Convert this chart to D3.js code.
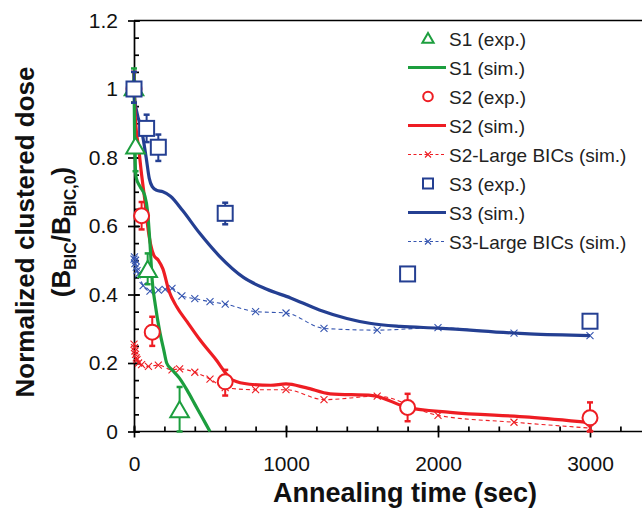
<!DOCTYPE html>
<html>
<head>
<meta charset="utf-8">
<script src="https://cdn.jsdelivr.net/npm/d3@7"></script>
<style>
  body { margin: 0; background: #fff; }
  svg { font-family: Arial, "Liberation Sans", sans-serif; }
  .axis path, .axis line { stroke: #000; stroke-width: 1.7; }
  .axis text { font-size: 21px; fill: #111; }
</style>
</head>
<body>
<svg width="642" height="511"></svg>
<script>
// experimental points [t, value, errLow, errHigh]
var s1Exp = [[0, 1.0, 0.96, 1.06], [10, 0.83, 0.76, 0.83], [90, 0.47, 0.43, 0.52], [300, 0.06, 0.0, 0.13]];
var s2Exp = [[0, 1.0, 0.96, 1.05], [50, 0.63, 0.59, 0.67], [120, 0.29, 0.25, 0.335], [600, 0.145, 0.105, 0.18], [1800, 0.07, 0.03, 0.11], [3000, 0.04, 0.0, 0.085]];
var s3Exp = [[0, 1.0, 0.96, 1.05], [83, 0.885, 0.845, 0.925], [160, 0.83, 0.79, 0.867], [600, 0.637, 0.605, 0.668], [1800, 0.46, 0.45, 0.472], [3000, 0.322, 0.322, 0.322]];

// simulations
var s1SimT = [0, 3, 8, 15, 40, 70, 90, 105, 120, 140, 170, 195, 215, 250, 300, 350, 400, 450, 500];
var s1SimV = [1.05, 0.9, 0.78, 0.74, 0.715, 0.69, 0.64, 0.55, 0.44, 0.37, 0.29, 0.24, 0.2, 0.18, 0.155, 0.12, 0.08, 0.04, 0.0];
var s2SimT = [0, 5, 15, 30, 50, 70, 90, 110, 130, 160, 190, 230, 280, 350, 430, 530, 650, 760, 900, 1000, 1130, 1290, 1570, 1800, 2080, 2600, 3000];
var s2SimV = [1.05, 0.95, 0.88, 0.83, 0.75, 0.68, 0.6, 0.545, 0.515, 0.5, 0.475, 0.41, 0.365, 0.32, 0.27, 0.215, 0.15, 0.138, 0.135, 0.139, 0.128, 0.11, 0.105, 0.07, 0.056, 0.042, 0.026];
var s2LargeT = [0, 3, 6, 10, 15, 20, 30, 50, 95, 160, 250, 300, 400, 500, 600, 800, 1000, 1250, 1600, 2000, 2500, 3000];
var s2LargeV = [0.255, 0.245, 0.235, 0.225, 0.215, 0.21, 0.2, 0.195, 0.19, 0.194, 0.18, 0.183, 0.173, 0.153, 0.128, 0.122, 0.122, 0.093, 0.103, 0.047, 0.027, 0.01];
var s3SimT = [0, 5, 20, 50, 80, 100, 120, 150, 190, 240, 320, 430, 560, 720, 870, 1030, 1220, 1400, 1550, 1750, 2000, 2600, 3000];
var s3SimV = [1.05, 0.97, 0.93, 0.88, 0.8, 0.74, 0.715, 0.704, 0.7, 0.687, 0.645, 0.58, 0.513, 0.45, 0.416, 0.39, 0.355, 0.33, 0.316, 0.307, 0.302, 0.285, 0.28];
var s3LargeT = [0, 3, 6, 10, 15, 20, 30, 60, 105, 160, 205, 250, 315, 400, 500, 600, 800, 1000, 1250, 1600, 2000, 2500, 3000];
var s3LargeV = [0.503, 0.51, 0.49, 0.5, 0.48, 0.47, 0.46, 0.426, 0.41, 0.413, 0.415, 0.418, 0.396, 0.388, 0.379, 0.372, 0.35, 0.346, 0.301, 0.296, 0.303, 0.287, 0.28];

var xMajor = [0, 1000, 2000, 3000];
var yMajor = [0, 0.2, 0.4, 0.6, 0.8, 1.0, 1.2];
var yLabels = ["0", "0.2", "0.4", "0.6", "0.8", "1", "1.2"];

var green = "#1c9e3e", red = "#ee1d23", blue = "#243f92", blueL = "#3555b0";

var svg = d3.select("svg");
var x = d3.scaleLinear().domain([0, 3500]).range([134, 666]);
var y = d3.scaleLinear().domain([0, 1.2]).range([431.5, 20.5]);

// axes
svg.append("line").attr("x1", x(0)).attr("x2", 642).attr("y1", y(1.2)).attr("y2", y(1.2))
    .attr("stroke", "#000").attr("stroke-width", 1.7);

svg.append("g").attr("class", "axis")
    .attr("transform", "translate(" + x(0) + ",0)")
    .call(d3.axisLeft(y).tickValues(d3.range(0, 1.2001, 0.05)).tickSize(-5).tickFormat(""))
    .select(".domain").remove();
svg.append("g").attr("class", "axis")
    .attr("transform", "translate(" + x(0) + ",0)")
    .call(d3.axisLeft(y).tickValues(yMajor).tickSize(6).tickSizeOuter(0).tickPadding(10)
      .tickFormat(function (d, i) { return yLabels[i]; }))
    .call(function (g) {
      g.selectAll(".tick").append("line").attr("x2", 6);
    });

svg.append("g").attr("class", "axis")
    .attr("transform", "translate(0," + y(0) + ")")
    .call(d3.axisBottom(x).tickValues(d3.range(0, 3501, 200)).tickSize(-5).tickFormat(""))
    .select(".domain").remove();
svg.append("g").attr("class", "axis")
    .attr("transform", "translate(0," + y(0) + ")")
    .call(d3.axisBottom(x).tickValues(xMajor).tickSize(6).tickSizeOuter(0).tickPadding(19).tickFormat(d3.format("d")))
    .call(function (g) {
      g.select(".domain").attr("d", "M" + x(0) + ",0H642");
      g.selectAll(".tick").append("line").attr("y2", -6);
    });

// titles
svg.append("text").attr("x", 405).attr("y", 502).attr("text-anchor", "middle")
    .style("font-size", "27px").style("font-weight", "bold").attr("fill", "#111")
    .text("Annealing time (sec)");

var yt = svg.append("g").attr("transform", "translate(0,232) rotate(-90)");
yt.append("text").attr("x", 0).attr("y", 34).attr("text-anchor", "middle")
    .style("font-size", "26px").style("font-weight", "bold").attr("fill", "#111")
    .text("Normalized clustered dose");
var t2 = yt.append("text").attr("x", 0).attr("y", 70).attr("text-anchor", "middle")
    .style("font-size", "26px").style("font-weight", "bold").attr("fill", "#111");
t2.append("tspan").text("(B");
t2.append("tspan").attr("dy", 6).style("font-size", "16px").text("BIC");
t2.append("tspan").attr("dy", -6).text("/B");
t2.append("tspan").attr("dy", 6).style("font-size", "16px").text("BIC,0");
t2.append("tspan").attr("dy", -6).text(")");

// lines
var line = d3.line().x(function (d) { return x(d[0]); }).y(function (d) { return y(d[1]); })
    .curve(d3.curveMonotoneX);
function pairs(t, v) { return t.map(function (d, i) { return [d, v[i]]; }); }

function crossPath(s) {
  return "M" + (-s) + "," + (-s) + "L" + s + "," + s + "M" + (-s) + "," + s + "L" + s + "," + (-s);
}

function drawLarge(t, v, color) {
  var data = pairs(t, v);
  svg.append("path").datum(data).attr("d", line).attr("fill", "none")
      .attr("stroke", color).attr("stroke-width", 1.1).attr("stroke-dasharray", "4,3");
  svg.append("g").selectAll("path").data(data).enter().append("path")
      .attr("transform", function (d) { return "translate(" + x(d[0]) + "," + y(d[1]) + ")"; })
      .attr("d", crossPath(3.5)).attr("stroke", color).attr("stroke-width", 1.1).attr("fill", "none");
}
drawLarge(s2LargeT, s2LargeV, red);
drawLarge(s3LargeT, s3LargeV, blueL);

function drawSim(t, v, color) {
  svg.append("path").datum(pairs(t, v)).attr("d", line).attr("fill", "none")
      .attr("stroke", color).attr("stroke-width", 3.2);
}
drawSim(s3SimT, s3SimV, blue);
drawSim(s2SimT, s2SimV, red);
drawSim(s1SimT, s1SimV, green);

// experimental
var tri = d3.symbol().type(d3.symbolTriangle).size(150);
function drawExp(data, color, shape) {
  var g = svg.append("g");
  var e = g.selectAll("g").data(data).enter().append("g")
      .attr("transform", function (d) { return "translate(" + x(d[0]) + ",0)"; });
  e.append("line").attr("y1", function (d) { return y(d[2]); }).attr("y2", function (d) { return y(d[3]); })
      .attr("stroke", color).attr("stroke-width", 2);
  e.append("line").attr("x1", -3).attr("x2", 3).attr("y1", function (d) { return y(d[2]); }).attr("y2", function (d) { return y(d[2]); })
      .attr("stroke", color).attr("stroke-width", 2.5);
  e.append("line").attr("x1", -3).attr("x2", 3).attr("y1", function (d) { return y(d[3]); }).attr("y2", function (d) { return y(d[3]); })
      .attr("stroke", color).attr("stroke-width", 2.5);
  e.each(function (d) {
    var s = d3.select(this);
    var cy = y(d[1]);
    if (shape === "circle") {
      s.append("circle").attr("cy", cy).attr("r", 7.5);
    } else if (shape === "square") {
      s.append("rect").attr("x", -7.5).attr("y", cy - 7.5).attr("width", 15).attr("height", 15);
    } else {
      s.append("path").attr("transform", "translate(0," + (cy + 1) + ")").attr("d", tri);
    }
  });
  e.selectAll("circle,rect,path").attr("fill", "#fff").attr("stroke", color).attr("stroke-width", 2);
}
drawExp(s2Exp, red, "circle");
drawExp(s1Exp, green, "triangle");
drawExp(s3Exp, blue, "square");

// legend
var legendNames = ["S1 (exp.)", "S1 (sim.)", "S2 (exp.)", "S2 (sim.)", "S2-Large BICs (sim.)", "S3 (exp.)", "S3 (sim.)", "S3-Large BICs (sim.)"];
var legendKinds = ["triangle", "line", "circle", "line", "large", "square", "line", "large"];
var legendColors = [green, green, red, red, red, blue, blue, blueL];
var lg = svg.append("g");
legendNames.forEach(function (name, i) {
  var cy = 38.5 + i * 29, c = legendColors[i], k = legendKinds[i];
  if (k === "line") {
    lg.append("line").attr("x1", 408).attr("x2", 446).attr("y1", cy).attr("y2", cy)
      .attr("stroke", c).attr("stroke-width", 3);
  } else if (k === "large") {
    lg.append("line").attr("x1", 408).attr("x2", 446).attr("y1", cy).attr("y2", cy)
      .attr("stroke", c).attr("stroke-width", 1).attr("stroke-dasharray", "3,2.5");
    lg.append("path").attr("transform", "translate(428," + cy + ")").attr("d", crossPath(3))
      .attr("stroke", c).attr("stroke-width", 1.1);
  } else if (k === "circle") {
    lg.append("circle").attr("cx", 428).attr("cy", cy).attr("r", 4.8)
      .attr("fill", "#fff").attr("stroke", c).attr("stroke-width", 2);
  } else if (k === "square") {
    lg.append("rect").attr("x", 423).attr("y", cy - 5).attr("width", 10).attr("height", 10)
      .attr("fill", "#fff").attr("stroke", c).attr("stroke-width", 2);
  } else {
    lg.append("path").attr("transform", "translate(428," + (cy + 1) + ")")
      .attr("d", d3.symbol().type(d3.symbolTriangle).size(55))
      .attr("fill", "#fff").attr("stroke", c).attr("stroke-width", 2);
  }
  lg.append("text").attr("x", 449).attr("y", cy + 7).style("font-size", "19px").attr("fill", "#222").text(name);
});
</script>
</body>
</html>
